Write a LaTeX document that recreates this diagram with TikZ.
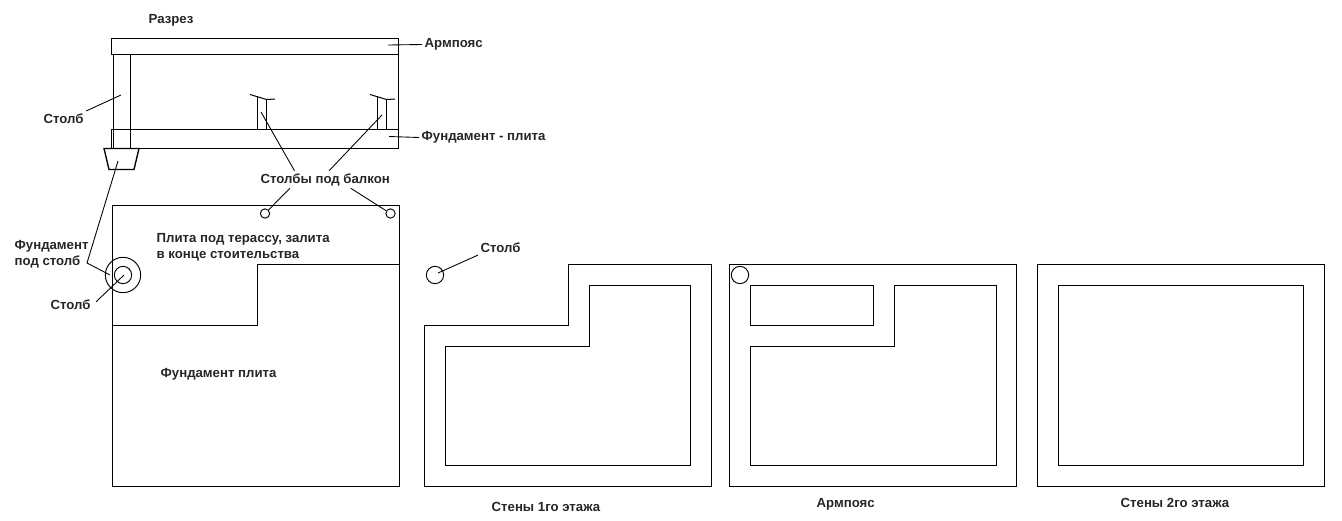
\documentclass[tikz,border=0pt]{standalone}
\usepackage{fontspec}
\setmainfont{Liberation Sans}
\tikzset{every picture/.style={line width=1pt}}
\tikzset{
	wall/.style={draw=black,line width=1pt},
	leader/.style={draw=black,line width=0.65pt},
	thinpost/.style={draw=black,line width=0.75pt},
	post/.style={circle,draw=black,line width=0.7pt,inner sep=0pt},
	lbl/.style={font=\fontsize{9.9}{12}\selectfont\bfseries,inner sep=1.5pt,anchor=west,align=left,text=black!85}
}

\begin{document}
\begin{tikzpicture}[x=0.75pt,y=0.75pt,yscale=-1,xscale=1]
	\useasboundingbox (0,0) rectangle (1342,521);

	%Section: top beam and foundation plate
	\draw [wall] (111.5,38.5) rectangle (398.5,54.5);
	\draw [wall] (111.5,129.5) rectangle (398.5,148.5);
	\draw [wall] (398.5,54.5) -- (398.5,129.5);
	%Section: corner column
	\draw [wall] (113.5,54.5) -- (113.5,148.5);
	\draw [wall] (130.5,54.5) -- (130.5,148.5);
	%Section: footing
	\draw [wall] (104,148.5) -- (109,169.5) -- (134,169.5) -- (139,148.5) -- cycle;
	%Section: balcony columns
	\draw [thinpost] (257.5,96) -- (257.5,129.5);
	\draw [thinpost] (266.5,99) -- (266.5,129.5);
	\draw [thinpost] (250,94.5) -- (266.5,99.5) -- (275,99);
	\draw [thinpost] (377.5,96) -- (377.5,129.5);
	\draw [thinpost] (386.5,99) -- (386.5,129.5);
	\draw [thinpost] (370,94.5) -- (386.5,99.5) -- (395,99);

	%Plan: foundation
	\draw [wall] (112.5,205.5) rectangle (399.5,486.5);
	\draw [wall] (399.5,264.5) -- (257.5,264.5) -- (257.5,325.5) -- (112.5,325.5);
	\node [post,minimum size=26.5pt] (ringOuter) at (123,275) {};
	\node [post,minimum size=13pt] (ringInner) at (123,275) {};
	\node [post,minimum size=7pt] (postLeft) at (265,213.5) {};
	\node [post,minimum size=7pt] (postRight) at (390.5,213.5) {};

	%Plan: walls, first floor
	\draw [wall] (424.5,486.5) -- (424.5,325.5) -- (568.5,325.5) -- (568.5,264.5) -- (711.5,264.5) -- (711.5,486.5) -- cycle;
	\draw [wall] (445.5,465.5) -- (445.5,346.5) -- (589.5,346.5) -- (589.5,285.5) -- (690.5,285.5) -- (690.5,465.5) -- cycle;
	\node [post,minimum size=13pt] (postFirst) at (435,275) {};

	%Plan: ring beam
	\draw [wall] (729.5,264.5) rectangle (1016.5,486.5);
	\draw [wall] (750.5,285.5) rectangle (873.5,325.5);
	\draw [wall] (750.5,465.5) -- (750.5,346.5) -- (894.5,346.5) -- (894.5,285.5) -- (996.5,285.5) -- (996.5,465.5) -- cycle;
	\node [post,minimum size=13pt] (postRing) at (740,275) {};

	%Plan: walls, second floor
	\draw [wall] (1037.5,264.5) rectangle (1324.5,486.5);
	\draw [wall] (1058.5,285.5) rectangle (1303.5,465.5);

	% Text Node
	\node [lbl] (sectionLabel) at (146,20.5) {Разрез};
	\node [lbl] (beamLabel) at (422,44.5) {Армпояс};
	\node [lbl] (plateLabel) at (419,137.5) {Фундамент - плита};
	\node [lbl] (columnLabel) at (41,118.5) {Столб};
	\node [lbl] (balconyLabel) at (258,179.5) {Столбы под балкон};
	\node [lbl] (footLabel) at (12,254) {Фундамент\\под столб};
	\node [lbl] (ringLabel) at (48,304.5) {Столб};
	\node [lbl] (terraceLabel) at (154,247) {Плита под терассу, залита\\в конце стоительства};
	\node [lbl] (baseLabel) at (158,374.5) {Фундамент плита};
	\node [lbl] (firstPostLabel) at (478,247.5) {Столб};
	\node [lbl] (firstLabel) at (489,506.5) {Стены 1го этажа};
	\node [lbl] (ringBeamLabel) at (814,504.5) {Армпояс};
	\node [lbl] (secondLabel) at (1118,502.5) {Стены 2го этажа};

	%Leader ends
	\coordinate (beamTip) at (388,45);
	\coordinate (plateTip) at (389,136.5);
	\coordinate (columnTip) at (121,95);
	\coordinate (balconyTipA) at (261,112);
	\coordinate (balconyTipB) at (382,115);
	\coordinate (footTip) at (118,161);
	\coordinate (footElbow) at (87,263);
	\coordinate (footEnd) at (110,275);
	\coordinate (ringTip) at (124,275);
	\coordinate (firstTip) at (438,273);

	%Leaders
	\draw [leader] (beamLabel.west) -- (beamTip);
	\draw [leader] (plateLabel.west) -- (plateTip);
	\draw [leader] (columnLabel.north east) -- (columnTip);
	\draw [leader] (balconyLabel.164) -- (balconyTipA);
	\draw [leader] (balconyLabel.66) -- (balconyTipB);
	\draw [leader] (balconyLabel.194) -- (postLeft);
	\draw [leader] (balconyLabel.341) -- (postRight);
	\draw [leader] (footTip) -- (footElbow) -- (footEnd);
	\draw [leader,shorten <=3pt] (ringLabel.east) -- (ringTip);
	\draw [leader] (firstPostLabel.south west) -- (firstTip);

\end{tikzpicture}
\end{document}
